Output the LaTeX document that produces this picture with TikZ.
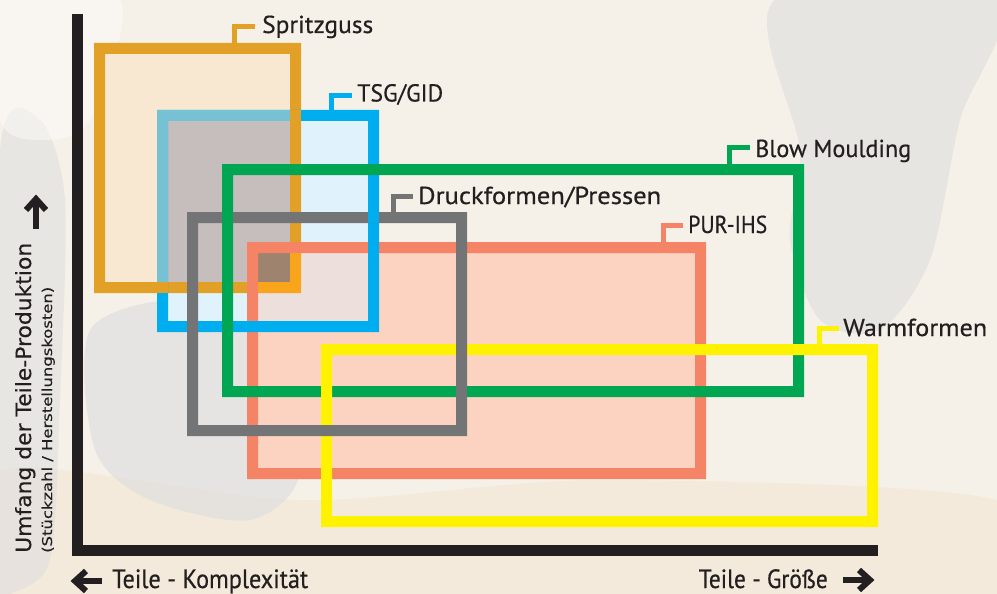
\documentclass[tikz,border=0pt]{standalone}
\usepackage{fontspec}
\usepackage{graphicx}
\setmainfont{PT Sans}
\newfontfamily\labfont{PT Sans}[FakeBold=0.5]
\newfontfamily\yfont{DejaVu Sans}[FakeBold=0.3]
\definecolor{bg}{HTML}{F6F1E8}
\definecolor{bgwarm}{HTML}{F3E8D8}
\definecolor{bggray}{HTML}{DCDCDE}
\definecolor{axisc}{HTML}{231F20}
\definecolor{Sor}{HTML}{E3A027}
\definecolor{Sbright}{HTML}{F9A51B}
\definecolor{Sfill}{HTML}{F8E8D1}
\definecolor{Tblue}{HTML}{00AEEF}
\definecolor{Tlight}{HTML}{76C2D4}
\definecolor{Tfill}{HTML}{E0F2FB}
\definecolor{STfill}{HTML}{C6BEBC}
\definecolor{Psal}{HTML}{F58466}
\definecolor{Pfill}{HTML}{FCD3C1}
\definecolor{TPfill}{HTML}{EDE0DC}
\definecolor{STPfill}{HTML}{9E846F}
\definecolor{Ggreen}{HTML}{00A651}
\definecolor{Dgray}{HTML}{737476}
\definecolor{Wyel}{HTML}{FFF200}
\newcommand\fitw[2]{\resizebox{#1pt}{\height}{#2}}
\tikzset{
  frame/.style={fill=#1, even odd rule},
  leader/.style={draw=#1, line width=5pt, line join=miter},
  lab/.style={anchor=base west, inner sep=0pt, text=axisc, font=\labfont\fontsize{24.5}{26}\selectfont},
  axislab/.style={inner sep=0pt, text=axisc, font=\labfont\fontsize{24}{26}\selectfont},
  bigarrow/.style={draw=axisc, line width=6pt, line join=miter}
}
\begin{document}
\begin{tikzpicture}[x=1pt,y=-1pt]
\useasboundingbox (0,0) rectangle (997,594);
% background
\fill[bg] (0,0) rectangle (997,594);
\fill[bgwarm, opacity=0.7] plot[smooth cycle] coordinates {(0,470) (300,500) (600,480) (997,500) (997,594) (0,594)};
\fill[bggray, opacity=0.55] plot[smooth cycle] coordinates {(775,0) (997,0) (960,120) (930,260) (880,330) (820,320) (790,240) (800,150)};
\fill[bggray, opacity=0.5] plot[smooth cycle] coordinates {(0,150) (40,120) (65,200) (60,400) (50,560) (10,594) (0,594)};
\fill[bggray, opacity=0.6] plot[smooth cycle] coordinates {(90,330) (180,300) (260,340) (300,470) (250,520) (150,500) (95,450)};
\fill[white, opacity=0.4] plot[smooth cycle] coordinates {(0,0) (120,0) (90,120) (40,140) (0,120)};
% fills
\fill[Pfill] (258,253) rectangle (695,468);
\fill[Tfill] (168,121) rectangle (368,321);
\fill[Sfill] (105,54) rectangle (290,282);
\fill[STfill] (168,121) rectangle (290,282);
\fill[TPfill] (258,253) rectangle (368,321);
\fill[STPfill] (258,253) rectangle (290,282);
% Spritzguss frame
\fill[frame=Sor] (94,43) rectangle (301,293) (105,54) rectangle (290,282);
\fill[Sbright] (290,253) rectangle (301,293);
\fill[Sbright] (258,282) rectangle (301,293);
% PUR-IHS frame
\fill[frame=Psal] (247,242) rectangle (706,479) (258,253) rectangle (695,468);
% TSG/GID frame
\fill[frame=Tblue] (157,110) rectangle (379,332) (168,121) rectangle (368,321);
\fill[Tlight] (157,110) rectangle (290,121);
\fill[Tlight] (157,121) rectangle (168,282);
\fill[Sor] (290,110) rectangle (301,121);
\fill[Sor] (157,282) rectangle (168,293);
% Blow Moulding frame
\fill[frame=Ggreen] (222,164) rectangle (804,397) (233,175) rectangle (793,386);
% Warmformen frame
\fill[frame=Wyel] (321,344) rectangle (878,527) (332,355) rectangle (867,516);
% Druckformen frame
\fill[frame=Dgray] (187,212) rectangle (467,436) (198,223) rectangle (456,425);
\fill[Ggreen] (222,212) rectangle (233,223);
\fill[Tblue] (368,212) rectangle (379,223);
% axes
\fill[axisc] (72,14) rectangle (83,556);
\fill[axisc] (72,545) rectangle (878,556);
% labels
\node[lab] (lS) at (262,33) {\fitw{111}{Spritzguss}};
\node[lab] (lT) at (357,101.5) {\fitw{86}{TSG/GID}};
\node[lab] (lG) at (755,157) {\fitw{156}{Blow Moulding}};
\node[lab] (lD) at (418,204) {\fitw{243}{Druckformen/Pressen}};
\node[lab] (lP) at (688,233) {\fitw{79}{PUR-IHS}};
\node[lab] (lW) at (843,336) {\fitw{144}{Warmformen}};
% leaders
\coordinate (cS) at (234.5,43);  \coordinate (eS) at (255,26.5);
\coordinate (cT) at (331.5,110); \coordinate (eT) at (352,95.5);
\coordinate (cG) at (729.5,164); \coordinate (eG) at (750,147.5);
\coordinate (cD) at (393.5,212); \coordinate (eD) at (413,196.5);
\coordinate (cP) at (663,242);   \coordinate (eP) at (683,225.5);
\coordinate (cW) at (819.5,344); \coordinate (eW) at (839,328.5);
\draw[leader=Sor] (cS) |- (eS);
\draw[leader=Tblue] (cT) |- (eT);
\draw[leader=Ggreen] (cG) |- (eG);
\draw[leader=Dgray] (cD) |- (eD);
\draw[leader=Psal] (cP) |- (eP);
\draw[leader=Wyel] (cW) |- (eW);
% axis labels
\node[inner sep=0pt, text=axisc, font=\yfont\fontsize{21}{24}\selectfont, rotate=90, anchor=base west] (ly) at (31,553) {\fitw{310}{Umfang der Teile-Produktion}};
\node[inner sep=0pt, text=axisc, font=\yfont\fontsize{13.5}{15}\selectfont, rotate=90, anchor=base west] (ly2) at (52,553) {\fitw{266}{(Stückzahl / Herstellungskosten)}};
\node[axislab, anchor=base west] (lx1) at (112,588) {\scalebox{1}[1.1]{\fitw{196}{Teile - Komplexität}}};
\node[axislab, anchor=base east] (lx2) at (828,588) {\scalebox{1}[1.1]{\fitw{129}{Teile - Größe}}};
% arrows
\coordinate (au1) at (36,229); \coordinate (au2) at (36,199);
\draw[bigarrow] (au1) -- (au2);
\draw[bigarrow] (26,210) -- (36,199) -- (46,210);
\coordinate (al1) at (102,581); \coordinate (al2) at (75,581);
\draw[bigarrow] (al1) -- (al2);
\draw[bigarrow] (86,571) -- (75,581) -- (86,591);
\coordinate (ar1) at (843,580); \coordinate (ar2) at (870,580);
\draw[bigarrow] (ar1) -- (ar2);
\draw[bigarrow] (859,570) -- (870,580) -- (859,590);
\end{tikzpicture}
\end{document}
